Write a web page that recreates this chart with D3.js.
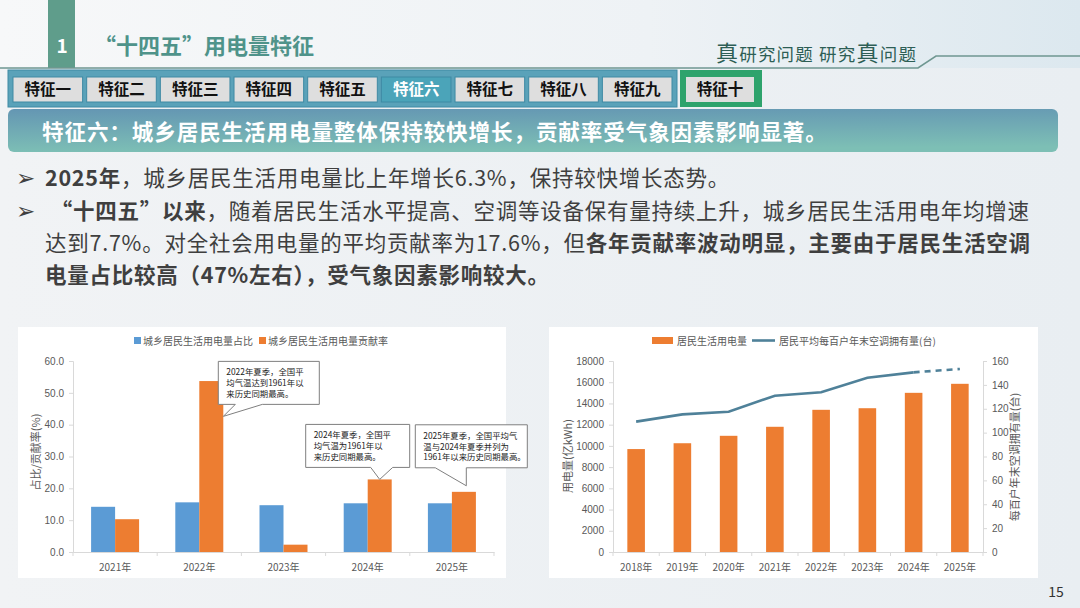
<!DOCTYPE html>
<html>
<head>
<meta charset="utf-8">
<script src="https://cdn.jsdelivr.net/npm/d3@7"></script>
<style>
    html, body { margin: 0; padding: 0; background: #eef1f4; }
    svg { display: block; font-family: "Noto Sans CJK SC", "Noto Sans", sans-serif; }
</style>
</head>
<body>
<svg id="slide"></svg>
<script>
// tabs
const tabNames = ["特征一", "特征二", "特征三", "特征四", "特征五", "特征六", "特征七", "特征八", "特征九"];
const lastTab = "特征十";
const activeTab = "特征六";

// left chart: share / contribution (%)
const yearsLeft = ["2021年", "2022年", "2023年", "2024年", "2025年"];
const shareOfTotal = [14.2, 15.6, 14.7, 15.3, 15.3];
const contribution = [10.3, 53.7, 2.3, 22.8, 18.9];
const leftTicks = [0, 10, 20, 30, 40, 50, 60];
const leftLegend = ["城乡居民生活用电量占比", "城乡居民生活用电量贡献率"];

// right chart: residential use (亿kWh) and AC per 100 households
const yearsRight = ["2018年", "2019年", "2020年", "2021年", "2022年", "2023年", "2024年", "2025年"];
const residentialUse = [9700, 10250, 10950, 11800, 13400, 13550, 15000, 15850];
const acPer100 = [109.2, 115.3, 117.5, 130.9, 133.8, 146.0, 150.5, 153.3];
const useTicks = [0, 2000, 4000, 6000, 8000, 10000, 12000, 14000, 16000, 18000];
const acTicks = [0, 20, 40, 60, 80, 100, 120, 140, 160];
const rightLegend = ["居民生活用电量", "居民平均每百户年末空调拥有量(台)"];

// callouts on the left chart
const callouts = [
    { year: "2022年", lines: ["2022年夏季，全国平", "均气温达到1961年以", "来历史同期最高。"] },
    { year: "2024年", lines: ["2024年夏季，全国平", "均气温为1961年以", "来历史同期最高。"] },
    { year: "2025年", lines: ["2025年夏季，全国平均气", "温与2024年夏季并列为", "1961年以来历史同期最高。"] }
];


const W = 1080, H = 608;
const svg = d3.select("#slide").attr("width", W).attr("height", H).attr("viewBox", `0 0 ${W} ${H}`);
const defs = svg.append("defs");

const bg = defs.append("linearGradient").attr("id", "bg").attr("x1", 0).attr("x2", 1).attr("y1", 0).attr("y2", 0);
bg.append("stop").attr("offset", 0).attr("stop-color", "#f1f3f5");
bg.append("stop").attr("offset", 1).attr("stop-color", "#e9eef2");

const head = defs.append("linearGradient").attr("id", "head").attr("x1", 0).attr("x2", 1).attr("y1", 0).attr("y2", 0);
head.append("stop").attr("offset", 0).attr("stop-color", "#f7f8f9");
head.append("stop").attr("offset", 0.6).attr("stop-color", "#eef2f5");
head.append("stop").attr("offset", 1).attr("stop-color", "#dce8ef");

const banner = defs.append("linearGradient").attr("id", "banner").attr("x1", 0).attr("x2", 0.15).attr("y1", 0).attr("y2", 1);
banner.append("stop").attr("offset", 0).attr("stop-color", "#6496b3");
banner.append("stop").attr("offset", 1).attr("stop-color", "#7dbfb5");

svg.append("rect").attr("width", W).attr("height", H).attr("fill", "url(#bg)");
svg.append("rect").attr("width", W).attr("height", 68).attr("fill", "url(#head)");

//HEADER
svg.append("rect").attr("x", 48).attr("y", 0).attr("width", 27).attr("height", 68).attr("fill", "#5f9d8b");
svg.append("text").attr("x", 62).attr("y", 53).attr("text-anchor", "middle")
    .attr("fill", "#fff").attr("font-size", 19).attr("font-weight", "bold").text("1");
svg.append("text").attr("x", 94).attr("y", 54)
    .attr("fill", "#4f938a").attr("font-size", 22).attr("font-weight", "bold").text("“十四五”用电量特征");

svg.append("path").attr("d", "M0,68 L918,68 L936,56 L1080,56")
    .attr("fill", "none").attr("stroke", "#6f9791").attr("stroke-width", 1.6);

const slogan = svg.append("text").attr("x", 716).attr("y", 61).attr("fill", "#2d5e55")
    .attr("font-size", 17.5).attr("letter-spacing", 1.2);
slogan.append("tspan").attr("font-size", 22).text("真");
slogan.append("tspan").text("研究问题 研究");
slogan.append("tspan").attr("font-size", 22).text("真");
slogan.append("tspan").text("问题");

//TABS
svg.append("rect").attr("x", 8).attr("y", 70).attr("width", 669).attr("height", 37)
    .attr("fill", "#5aa2b9").attr("stroke", "#3f8aa4").attr("stroke-width", 1);

const tabX = d3.scaleBand(tabNames, [13, 672]).paddingInner(0.055);

const tabs = svg.selectAll(".tab").data(tabNames).join("g").attr("class", "tab");
tabs.append("rect")
    .attr("x", d => tabX(d)).attr("y", 77).attr("width", tabX.bandwidth()).attr("height", 25)
    .attr("fill", d => d === activeTab ? "#4ba4b9" : "#dedede")
    .attr("stroke", "#3f8aa4").attr("stroke-width", 1);
tabs.append("text")
    .attr("x", d => tabX(d) + tabX.bandwidth() / 2).attr("y", 95).attr("text-anchor", "middle")
    .attr("font-size", 15.5).attr("font-weight", "bold")
    .attr("fill", d => d === activeTab ? "#ffffff" : "#111")
    .text(d => d);

svg.append("rect").attr("x", 680).attr("y", 70).attr("width", 82).attr("height", 37).attr("fill", "#2ea36c");
svg.append("rect").attr("x", 686).attr("y", 77).attr("width", 68).attr("height", 25).attr("fill", "#dedede");
svg.append("text").attr("x", 720).attr("y", 95).attr("text-anchor", "middle")
    .attr("font-size", 15.5).attr("font-weight", "bold").attr("fill", "#111").text(lastTab);

//BANNER
svg.append("rect").attr("x", 8).attr("y", 109).attr("width", 1050).attr("height", 43).attr("rx", 6)
    .attr("fill", "url(#banner)");
svg.append("text").attr("x", 42).attr("y", 140).attr("fill", "#fff").attr("font-size", 21.5).attr("font-weight", "bold")
    .attr("letter-spacing", 0.95)
    .text("特征六：城乡居民生活用电量整体保持较快增长，贡献率受气象因素影响显著。");

//BULLETS
const bulletLines = [
    { y: 186, arrow: true, parts: [["2025年", true], ["，城乡居民生活用电量比上年增长6.3%，保持较快增长态势。", false]] },
    { y: 219, arrow: true, parts: [[" “十四五”以来", true], ["，随着居民生活水平提高、空调等设备保有量持续上升，城乡居民生活用电年均增速", false]] },
    { y: 251, arrow: false, parts: [["达到7.7%。对全社会用电量的平均贡献率为17.6%，但", false], ["各年贡献率波动明显，主要由于居民生活空调", true]] },
    { y: 283, arrow: false, parts: [["电量占比较高（47%左右），受气象因素影响较大。", true]] }
];

bulletLines.forEach(line => {
    if (line.arrow) {
        svg.append("text").attr("x", 16).attr("y", line.y).attr("font-size", 23).attr("fill", "#404040")
            .attr("font-family", "DejaVu Sans").text("➢");
    }
    const t = svg.append("text").attr("x", 45).attr("y", line.y).attr("font-size", 21.5).attr("fill", "#3f3f3f")
        .attr("letter-spacing", 0.75).attr("xml:space", "preserve");
    line.parts.forEach(([s, b]) => {
        t.append("tspan").attr("font-weight", b ? "bold" : "normal").text(s);
    });
});

// page number
svg.append("text").attr("x", 1056).attr("y", 597).attr("text-anchor", "middle")
    .attr("font-size", 14).attr("fill", "#333").text("15");


//PANELS
svg.append("rect").attr("x", 18).attr("y", 327).attr("width", 488).attr("height", 251).attr("fill", "#fff");
svg.append("rect").attr("x", 549).attr("y", 327).attr("width", 489).attr("height", 251).attr("fill", "#fff");

const axisColor = "#d9d9d9";
const labelColor = "#595959";

function styleAxis(g) {
    g.select(".domain").attr("stroke", axisColor);
    g.selectAll(".tick line").attr("stroke", axisColor);
    g.selectAll(".tick text").attr("fill", labelColor).attr("font-size", 10)
        .attr("font-family", "Liberation Sans, Arial, sans-serif");
}

//LEFT CHART
const left = svg.append("g");
const xL = d3.scaleBand(yearsLeft, [73, 494]).paddingInner(0.43).paddingOuter(0.215);
const xL1 = d3.scaleBand(["share", "contrib"], [0, xL.bandwidth()]);
const yL = d3.scaleLinear([0, 60], [552, 361]);

const yAxisL = left.append("g").attr("transform", "translate(73,0)")
    .call(d3.axisLeft(yL).tickValues(leftTicks).tickFormat(d3.format(".1f")).tickSize(4).tickPadding(5));
styleAxis(yAxisL);

const leftData = yearsLeft.map((y, i) => ({ year: y, share: shareOfTotal[i], contrib: contribution[i] }));
const leftColors = { share: "#5b9bd5", contrib: "#ed7d31" };

left.selectAll(".grp").data(leftData).join("g").attr("class", "grp")
    .attr("transform", d => `translate(${xL(d.year)},0)`)
    .selectAll("rect").data(d => ["share", "contrib"].map(k => ({ key: k, value: d[k] })))
    .join("rect")
    .attr("x", d => xL1(d.key)).attr("width", xL1.bandwidth())
    .attr("y", d => yL(d.value)).attr("height", d => yL(0) - yL(d.value))
    .attr("fill", d => leftColors[d.key]);

const xAxisL = left.append("g").attr("transform", "translate(0,552)")
    .call(d3.axisBottom(xL).tickSize(0).tickPadding(12));
styleAxis(xAxisL);
xAxisL.selectAll(".tick text").attr("font-family", "Noto Sans CJK SC");
left.selectAll(".sepL").data(d3.range(yearsLeft.length + 1)).join("line").attr("class", "sepL")
    .attr("x1", i => 73 + i * xL.step()).attr("x2", i => 73 + i * xL.step())
    .attr("y1", 552).attr("y2", 556).attr("stroke", axisColor);

left.append("text").attr("transform", "translate(40,452) rotate(-90)").attr("text-anchor", "middle")
    .attr("font-size", 11).attr("fill", labelColor).text("占比/贡献率(%)");

// legend
const legL = left.append("g").attr("font-size", 10).attr("fill", labelColor);
legL.append("rect").attr("x", 134).attr("y", 337).attr("width", 7).attr("height", 7).attr("fill", leftColors.share);
legL.append("text").attr("x", 143).attr("y", 344.5).text(leftLegend[0]);
legL.append("rect").attr("x", 259).attr("y", 337).attr("width", 7).attr("height", 7).attr("fill", leftColors.contrib);
legL.append("text").attr("x", 268).attr("y", 344.5).text(leftLegend[1]);

// callout layout: tip relative to the orange bar, box relative to the tip
const calloutLayout = {
    "2022年": { tipX: 1.0, tipValue: 42.6, box: [-5, -55, 101, 43], base: [12, 39] },
    "2024年": { tipX: 0.5, tipValue: 22.8, box: [-74, -55, 104, 43], base: [-9, 13] },
    "2025年": { tipX: 0.6, tipValue: 20.8, box: [-51, -61, 112, 43], base: [-31, 0] }
};

callouts.forEach(c => {
    const L = calloutLayout[c.year];
    const tx = xL(c.year) + xL1("contrib") + xL1.bandwidth() * L.tipX;
    const ty = yL(L.tipValue);
    const bx = tx + L.box[0], by = ty + L.box[1], bw = L.box[2], bh = L.box[3];
    const b1 = tx + L.base[0], b2 = tx + L.base[1];
    const path = `M${bx},${by} H${bx + bw} V${by + bh} H${b2} L${tx},${ty} L${b1},${by + bh} H${bx} Z`;
    left.append("path").attr("d", path).attr("fill", "#fff").attr("stroke", "#7f7f7f").attr("stroke-width", 1);
    const t = left.append("text").attr("font-size", 8.4).attr("fill", "#222");
    c.lines.forEach((s, i) => {
        t.append("tspan").attr("x", bx + 8).attr("y", by + 14 + i * 10.8).text(s);
    });
});

//RIGHT CHART
const right = svg.append("g");
const xR = d3.scaleBand(yearsRight, [613, 983]).paddingInner(0.62).paddingOuter(0.31);
const yR = d3.scaleLinear([0, 18000], [552, 361]);
const yR2 = d3.scaleLinear([0, 160], [552, 361]);

const yAxisR = right.append("g").attr("transform", "translate(613,0)")
    .call(d3.axisLeft(yR).tickValues(useTicks).tickFormat(d3.format("d")).tickSize(4).tickPadding(5));
styleAxis(yAxisR);
const yAxisR2 = right.append("g").attr("transform", "translate(983,0)")
    .call(d3.axisRight(yR2).tickValues(acTicks).tickSize(4).tickPadding(5));
styleAxis(yAxisR2);

right.selectAll(".barR").data(yearsRight).join("rect").attr("class", "barR")
    .attr("x", d => xR(d)).attr("width", xR.bandwidth())
    .attr("y", (d, i) => yR(residentialUse[i])).attr("height", (d, i) => yR(0) - yR(residentialUse[i]))
    .attr("fill", "#ed7d31");

const xAxisR = right.append("g").attr("transform", "translate(0,552)")
    .call(d3.axisBottom(xR).tickSize(0).tickPadding(12));
styleAxis(xAxisR);
xAxisR.selectAll(".tick text").attr("font-family", "Noto Sans CJK SC");
right.selectAll(".sepR").data(d3.range(yearsRight.length + 1)).join("line").attr("class", "sepR")
    .attr("x1", i => 613 + i * xR.step()).attr("x2", i => 613 + i * xR.step())
    .attr("y1", 552).attr("y2", 556).attr("stroke", axisColor);

const acData = yearsRight.map((y, i) => ({ year: y, v: acPer100[i] }));
const acLine = d3.line().x(d => xR(d.year) + xR.bandwidth() / 2).y(d => yR2(d.v));
const lineColor = "#4f8199";
right.append("path").datum(acData.slice(0, 7)).attr("d", acLine)
    .attr("fill", "none").attr("stroke", lineColor).attr("stroke-width", 2.6);
right.append("path").datum(acData.slice(6)).attr("d", acLine)
    .attr("fill", "none").attr("stroke", lineColor).attr("stroke-width", 2.6).attr("stroke-dasharray", "6,5");

right.append("text").attr("transform", "translate(572,456) rotate(-90)").attr("text-anchor", "middle")
    .attr("font-size", 11).attr("fill", labelColor).text("用电量(亿kWh)");
right.append("text").attr("transform", "translate(1019,457) rotate(-90)").attr("text-anchor", "middle")
    .attr("font-size", 11).attr("fill", labelColor).text("每百户年末空调拥有量(台)");

const legR = right.append("g").attr("font-size", 10).attr("fill", labelColor);
legR.append("rect").attr("x", 652).attr("y", 337).attr("width", 21).attr("height", 7).attr("fill", "#ed7d31");
legR.append("text").attr("x", 677).attr("y", 344.5).text(rightLegend[0]);
legR.append("line").attr("x1", 752).attr("x2", 775).attr("y1", 340.5).attr("y2", 340.5)
    .attr("stroke", lineColor).attr("stroke-width", 2.6);
legR.append("text").attr("x", 779).attr("y", 344.5).text(rightLegend[1]);
</script>
</body>
</html>
